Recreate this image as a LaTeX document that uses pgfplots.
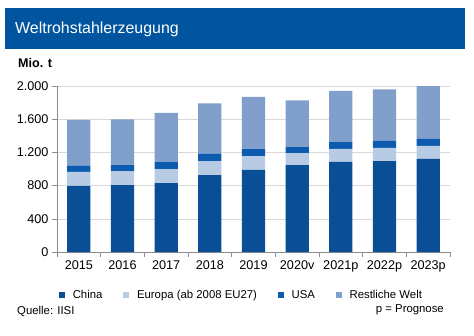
\documentclass[border=0pt]{standalone}
\usepackage{fontspec}
\setmainfont{Liberation Sans}
\usepackage{pgfplots}
\pgfplotsset{compat=1.18}
\definecolor{cBanner}{HTML}{00559E}
\definecolor{cChina}{HTML}{0A4F96}
\definecolor{cEuropa}{HTML}{B7CBE5}
\definecolor{cUSA}{HTML}{0D5BAE}
\definecolor{cRest}{HTML}{819FCB}
\definecolor{cGrid}{HTML}{D9D9D9}
\definecolor{cAxis}{HTML}{8C8C8C}
\begin{document}
\begin{tikzpicture}[x=1bp,y=1bp]
\path[use as bounding box] (0,0) rectangle (474,335);
\fill[cBanner] (5,285.7) rectangle (465,326.7);
\node[anchor=west,text=white,inner sep=0pt,font=\fontsize{16}{18}\selectfont] at (15,306) {Weltrohstahlerzeugung};
\node[anchor=west,inner sep=0pt,font=\fontsize{12.6}{14}\selectfont\bfseries] at (18,272.3) {Mio. t};
\begin{axis}[
  at={(57bp,83bp)}, anchor=south west,
  scale only axis, width=393bp, height=166bp,
  ybar stacked, bar width=23.3bp,
  xmin=-0.5, xmax=8.5, ymin=0, ymax=2000,
  xtick={0,...,8},
  xticklabels={2015,2016,2017,2018,2019,2020v,2021p,2022p,2023p},
  minor xtick={-0.5,0.5,...,8.5},
  ytick={0,400,...,2000},
  major x tick style={draw=none},
  tick align=outside,
  major tick length=5bp, minor tick length=5bp,
  every tick/.style={cAxis, line width=0.6pt},
  axis x line*=bottom, axis y line*=left,
  axis line style={cAxis, line width=0.6pt},
  ymajorgrids, grid style={cGrid, line width=0.6pt},
  tick label style={font=\fontsize{12.7}{14}\selectfont},
  /pgf/number format/.cd, 1000 sep={.}, assume math mode=true,
  /pgfplots/.cd,
  legend columns=4,
  legend style={draw=none, fill=none, at={(0.005,-0.26)}, anchor=west,
    font=\fontsize{11.4}{13}\selectfont, inner sep=0pt,
    nodes={inner sep=0pt},
    /tikz/every even column/.append style={column sep=21bp},
    /tikz/every odd column/.append style={column sep=8bp}},
  legend image code/.code={\path[#1,draw=none] (0bp,-2.8bp) rectangle (5.6bp,2.8bp);},
]
\addplot[fill=cChina, draw=none] coordinates {(0,798) (1,806) (2,830) (3,926) (4,990) (5,1046) (6,1086) (7,1094) (8,1122)};
\addplot[fill=cEuropa, draw=none] coordinates {(0,168) (1,164) (2,168) (3,168) (4,164) (5,144) (6,156) (7,160) (8,157)};
\addplot[fill=cUSA, draw=none] coordinates {(0,72) (1,76) (2,84) (3,88) (4,84) (5,73) (6,81) (7,85) (8,84)};
\addplot[fill=cRest, draw=none] coordinates {(0,553) (1,553) (2,593) (3,610) (4,630) (5,565) (6,617) (7,621) (8,637)};
\legend{China, Europa (ab 2008 EU27), USA, Restliche Welt}
\end{axis}
\node[anchor=west,inner sep=0pt,font=\fontsize{11.4}{13}\selectfont] at (17,23.3) {Quelle: IISI};
\node[anchor=east,inner sep=0pt,font=\fontsize{11.4}{13}\selectfont] at (444,25) {p = Prognose};
\end{tikzpicture}
\end{document}
